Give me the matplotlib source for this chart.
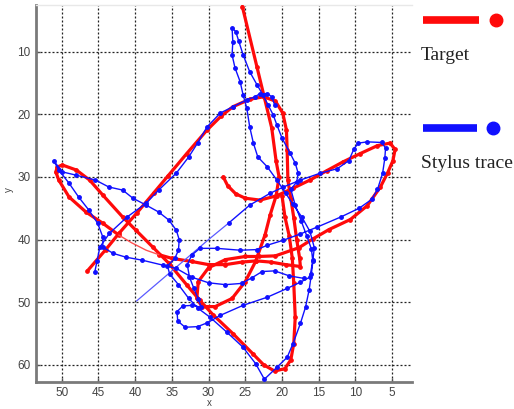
import matplotlib
matplotlib.use("Agg")
import matplotlib.pyplot as plt
from matplotlib.lines import Line2D

# ---------------- data ----------------
# Target (red) trace, several strokes
target_hook_x = [28.0, 27.4, 26.3, 25.0, 23.0, 20.7, 18.5, 16.2, 13.9, 11.7, 9.4, 7.0, 5.3, 4.6, 4.9, 5.6, 6.6, 8.4,
                 10.7, 13.6, 15.8, 17.7, 20.9, 23.2, 25.0, 27.7, 30.0, 31.4, 31.6, 30.9, 29.1, 26.8, 25.0, 23.6, 22.3,
                 21.6, 20.8, 20.4, 20.8, 21.4, 23.4, 25.4]
target_hook_y = [30.0, 31.4, 32.7, 33.4, 33.7, 33.0, 31.8, 30.5, 29.0, 27.6, 26.3, 25.0, 24.6, 25.6, 27.4, 29.3, 31.6, 34.6,
                 36.8, 38.4, 39.9, 41.3, 42.6, 42.7, 42.7, 43.2, 44.5, 46.7, 49.4, 50.7, 50.7, 49.4, 46.7, 43.5, 39.2,
                 36.0, 33.0, 30.0, 27.5, 22.2, 12.5, 2.8]

target_main_x = [46.5, 44.0, 42.2, 39.8, 37.5, 35.5, 33.0, 30.2, 28.3, 26.7, 24.4, 22.5, 20.9, 19.9, 19.4, 19.3, 19.2,
                 18.8, 18.4, 18.0, 17.6, 17.5, 19.5, 21.5, 23.5, 25.5, 27.7, 30.0, 32.3, 35.0, 36.8]
target_main_y = [45.0, 41.6, 39.0, 35.8, 32.6, 29.8, 26.3, 22.5, 20.3, 18.8, 17.6, 17.2, 17.9, 19.8, 22.5, 25.7, 30.5,
                 33.5, 36.5, 40.0, 43.0, 44.3, 44.0, 43.6, 43.4, 43.6, 44.0, 44.0, 43.5, 43.0, 42.4]

target_fast_x = [36.8, 38.5, 40.5, 42.2]
target_fast_y = [42.4, 41.7, 40.5, 39.3]

target_loop_x = [42.2, 44.4, 46.7, 49.0, 50.4, 50.8, 50.6, 49.9, 48.0, 46.2, 44.4, 41.7, 39.9, 37.6, 35.4, 33.0, 31.2,
                 29.4, 26.7, 24.0, 22.5, 21.0, 19.6, 18.8, 18.4, 18.2, 18.4, 18.6, 19.0, 19.6, 20.0]
target_loop_y = [39.3, 37.4, 35.6, 33.2, 30.5, 29.2, 28.4, 28.1, 28.9, 30.5, 32.9, 36.4, 38.5, 41.2, 43.8, 47.2, 49.7,
                 52.0, 55.0, 58.2, 60.0, 61.0, 60.6, 59.2, 56.6, 52.4, 47.0, 43.0, 39.5, 36.4, 33.0]

# Stylus (blue) trace
stylus_fast_x = [39.8, 29.8, 27.2]
stylus_fast_y = [49.8, 39.8, 37.3]

stylus_main_x = [27.2, 24.4, 21.6, 19.8, 17.5, 14.8, 12.5, 10.9, 10.2, 9.6, 8.4, 6.4, 5.9, 6.0, 6.3, 7.0, 7.8, 9.5,
                 12.0, 15.2, 17.5, 19.8, 22.0, 23.4, 25.7, 28.9, 31.2, 32.3, 32.9, 32.6, 32.0, 31.4, 31.0, 32.2, 33.5,
                 34.3, 34.2, 33.2, 31.5, 30.2, 28.4, 25.3, 22.0, 19.3, 17.5, 16.2, 15.8, 15.6, 16.2, 17.3, 18.5, 19.5,
                 20.7, 22.0, 23.3, 23.9, 24.4, 24.8, 25.3, 25.7, 26.4, 26.8, 26.7, 26.8, 26.3, 25.9, 25.3, 24.4, 23.4,
                 22.6, 21.9, 21.2, 20.7, 20.0, 18.9, 18.2, 17.8, 18.0, 18.8, 18.2, 17.4, 16.6, 16.0, 15.8, 16.0, 16.3,
                 16.8, 17.5, 18.5, 19.3, 20.7, 22.4, 23.6, 25.3, 27.5, 29.8, 31.4, 32.7, 34.1, 35.3, 35.6, 34.6, 34.1,
                 34.0, 34.4, 35.4, 36.8, 38.5, 40.3, 41.7, 43.6, 45.4, 48.1, 49.9, 51.1, 50.4, 49.0, 47.7, 46.3, 45.1,
                 44.4, 44.4, 43.0, 41.3, 39.0, 36.2, 34.4, 32.3, 30.0, 27.7, 25.5, 24.1, 22.7, 21.0, 19.0, 17.0]
stylus_main_y = [37.3, 34.5, 32.6, 31.6, 30.5, 29.4, 28.7, 27.4, 25.5, 24.6, 24.4, 24.5, 25.4, 27.0, 29.4, 32.0, 33.6,
                 35.0, 36.4, 38.0, 39.1, 40.1, 40.9, 41.6, 41.7, 41.4, 41.4, 42.5, 44.0, 46.0, 47.8, 49.5, 50.8, 50.5,
                 50.6, 51.5, 53.0, 54.0, 53.9, 53.3, 52.1, 50.5, 49.2, 47.8, 46.8, 46.0, 43.3, 41.3, 38.7, 36.4, 34.4,
                 32.6, 30.5, 28.4, 26.8, 24.6, 22.0, 19.0, 16.9, 14.8, 12.6, 10.5, 8.4, 6.2, 6.8, 8.3, 10.5, 13.2, 15.3,
                 16.9, 18.5, 20.1, 21.7, 23.8, 26.2, 27.8, 29.4, 30.8, 32.0, 34.5, 37.0, 39.5, 41.5, 43.5, 45.5, 48.0,
                 50.8, 53.4, 56.6, 58.8, 60.4, 62.3, 59.8, 57.2, 54.8, 52.4, 51.0, 49.4, 47.2, 45.5, 44.2, 43.0, 41.7,
                 40.0, 38.5, 36.9, 35.6, 34.5, 33.4, 32.1, 31.6, 30.5, 29.7, 29.2, 27.4, 28.9, 31.0, 33.2, 35.3, 37.4,
                 39.6, 41.2, 42.2, 42.8, 43.3, 44.1, 44.6, 46.0, 46.9, 47.2, 47.0, 46.1, 45.1, 45.0, 45.8, 46.2]

stylus_diag_x = [45.5, 45.2, 44.8, 43.5, 41.1, 38.5, 36.8, 34.4, 32.7, 31.5, 30.2, 28.4, 26.7, 24.8, 23.7, 23.0, 22.0,
                 21.4, 21.0]
stylus_diag_y = [45.2, 43.5, 41.2, 39.0, 36.4, 34.2, 32.1, 29.4, 26.8, 24.6, 22.0, 19.8, 18.8, 17.7, 17.2, 16.7, 16.7,
                 17.2, 18.5]

x_ticks = [50, 45, 40, 35, 30, 25, 20, 15, 10, 5]
y_ticks = [10, 20, 30, 40, 50, 60]
legend_labels = ["Target", "Stylus trace"]

# ---------------- drawing ----------------
RED = "#ff0a0a"
BLUE = "#1010ff"

fig = plt.figure(figsize=(5.14, 4.09), dpi=100)
ax = fig.add_axes([36 / 514, 1 - 381.5 / 409, (412 - 36) / 514, (381.5 - 5) / 409])

ax.set_xlim(53.5, 2.3)
ax.set_ylim(62.66, 2.55)
ax.set_xticks(x_ticks)
ax.set_yticks(y_ticks)
ax.grid(True, color="#222222", linestyle=(0, (1.6, 1.6)), linewidth=0.9)
ax.set_axisbelow(True)

ax.spines["right"].set_visible(False)
ax.spines["top"].set_color("#e8e8e8")
ax.spines["top"].set_linewidth(1.0)
for s in ["left", "bottom"]:
    ax.spines[s].set_color("#7a7a7a")
    ax.spines[s].set_linewidth(2.0)
ax.tick_params(direction="in", length=3, width=1, color="#555555", labelcolor="#444444",
               labelsize=8.5, pad=4, top=False, right=False)
for lab in ax.get_xticklabels() + ax.get_yticklabels():
    lab.set_fontfamily("Liberation Sans")

# axis titles placed explicitly (they sit close to the figure edges)
fig.text(209 / 514, 1 - 403 / 409, "x", fontsize=7, color="#444444", family="Liberation Sans",
         ha="center", va="center")
fig.text(9 / 514, 1 - 190 / 409, "y", fontsize=7, color="#444444", family="Liberation Sans",
         ha="center", va="center", rotation=90)

# target
for xs, ys in [(target_hook_x, target_hook_y), (target_main_x, target_main_y), (target_loop_x, target_loop_y)]:
    ax.plot(xs, ys, color=RED, lw=2.3, solid_capstyle="round", solid_joinstyle="round", zorder=3)
    ax.plot(xs, ys, ls="none", marker="o", ms=2.4, color=RED, zorder=3)
ax.plot(target_fast_x, target_fast_y, color="#ff5050", lw=1.0, zorder=3)

# stylus
ax.plot(stylus_fast_x, stylus_fast_y, color="#5a5aff", lw=0.9, zorder=4)
for xs, ys in [(stylus_main_x, stylus_main_y), (stylus_diag_x, stylus_diag_y)]:
    ax.plot(xs, ys, color=BLUE, lw=1.0, marker="o", ms=2.5, mec=BLUE, mfc=BLUE, zorder=4)

# legend drawn at the right, outside the axes
fig.add_artist(Line2D([423 / 514, 479 / 514], [1 - 20 / 409] * 2, color=RED, lw=5.5, solid_capstyle="butt"))
fig.add_artist(Line2D([496 / 514], [1 - 20 / 409], color=RED, marker="o", ms=9, ls="none"))
fig.text(421 / 514, 1 - 55 / 409, legend_labels[0], family="Liberation Serif", fontsize=14,
         va="center", ha="left", color="#222222")
fig.add_artist(Line2D([423 / 514, 477 / 514], [1 - 128 / 409] * 2, color=BLUE, lw=5.5, solid_capstyle="butt"))
fig.add_artist(Line2D([493 / 514], [1 - 128 / 409], color=BLUE, marker="o", ms=9, ls="none"))
fig.text(421 / 514, 1 - 163 / 409, legend_labels[1], family="Liberation Serif", fontsize=14,
         va="center", ha="left", color="#222222")

fig.savefig("out.png", dpi=100)
